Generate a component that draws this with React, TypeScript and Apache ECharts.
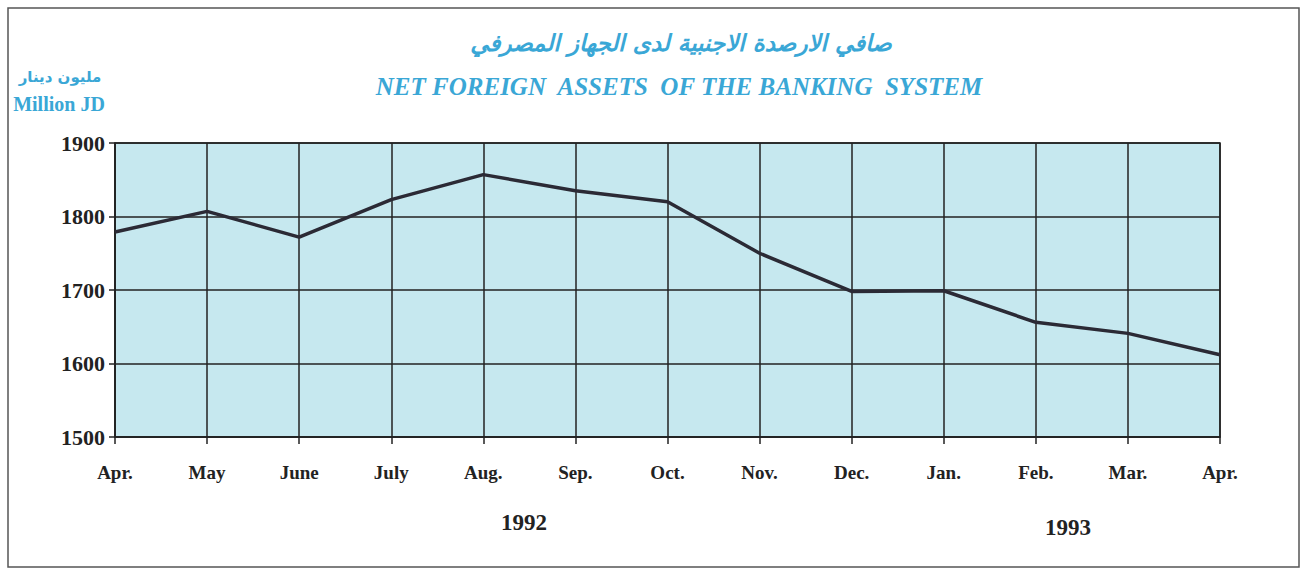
import React, { useEffect, useRef } from "react";
import * as echarts from "echarts";

const months = ["Apr.", "May", "June", "July", "Aug.", "Sep.", "Oct.", "Nov.", "Dec.", "Jan.", "Feb.", "Mar.", "Apr."];
const netForeignAssets = [1779, 1807, 1772, 1823, 1857, 1835, 1820, 1750, 1698, 1699, 1656, 1641, 1612];
const yTicks = [1500, 1600, 1700, 1800, 1900];
const titleArabic = "صافي الارصدة الاجنبية لدى الجهاز المصرفي";
const titleEnglish = "NET FOREIGN  ASSETS  OF THE BANKING  SYSTEM";
const unitArabic = "مليون دينار";
const unitEnglish = "Million JD";
const yearLabels = ["1992", "1993"];

const BLUE = "#3aa7d6";
const SERIF = "'Liberation Serif', 'DejaVu Serif', serif";

export default function App() {
  const ref = useRef<HTMLDivElement>(null);
  useEffect(() => {
    if (!ref.current) return;
    const chart = echarts.init(ref.current, null, { renderer: "svg" });
    chart.setOption({
      animation: false,
      backgroundColor: "#ffffff",
      grid: {
        left: 115,
        right: 88,
        top: 143,
        bottom: 135,
        show: true,
        backgroundColor: "#c6e8ef",
        borderColor: "#222",
        borderWidth: 1.5,
      },
      xAxis: {
        type: "category",
        data: months,
        boundaryGap: false,
        axisLine: { lineStyle: { color: "#222", width: 1.5 } },
        axisTick: { show: true, length: 7, inside: false, lineStyle: { color: "#222", width: 1.5 } },
        axisLabel: {
          margin: 26,
          color: "#222",
          fontFamily: SERIF,
          fontWeight: "bold",
          fontSize: 19,
        },
        splitLine: { show: true, lineStyle: { color: "#222", width: 1.5 } },
      },
      yAxis: {
        type: "value",
        min: yTicks[0],
        max: yTicks[yTicks.length - 1],
        interval: 100,
        axisLine: { show: true, lineStyle: { color: "#222", width: 1.5 } },
        axisTick: { show: true, length: 6, lineStyle: { color: "#222", width: 1.5 } },
        axisLabel: {
          margin: 10,
          color: "#222",
          fontFamily: SERIF,
          fontWeight: "bold",
          fontSize: 22,
          formatter: (v: number) => String(v),
        },
        splitLine: { show: true, lineStyle: { color: "#222", width: 1.5 } },
      },
      series: [
        {
          type: "line",
          data: netForeignAssets,
          symbol: "none",
          lineStyle: { color: "#2b2a35", width: 3.5 },
        },
      ],
      graphic: [
        {
          type: "rect",
          shape: { x: 8, y: 8, width: 1291, height: 559 },
          style: { fill: "none", stroke: "#555", lineWidth: 1.5 },
          silent: true,
        },
        {
          type: "text",
          x: 681,
          y: 43,
          style: {
            text: titleArabic,
            fill: BLUE,
            font: "italic bold 23px 'DejaVu Sans', 'Noto Sans', sans-serif",
            align: "center",
            verticalAlign: "middle",
          },
        },
        {
          type: "text",
          x: 679,
          y: 86,
          style: {
            text: titleEnglish,
            fill: BLUE,
            font: "italic bold 25px " + SERIF,
            align: "center",
            verticalAlign: "middle",
          },
        },
        {
          type: "text",
          x: 60,
          y: 77,
          style: {
            text: unitArabic,
            fill: BLUE,
            font: "bold 15px 'DejaVu Sans', sans-serif",
            align: "center",
            verticalAlign: "middle",
          },
        },
        {
          type: "text",
          x: 59,
          y: 104,
          style: {
            text: unitEnglish,
            fill: BLUE,
            font: "bold 20px " + SERIF,
            align: "center",
            verticalAlign: "middle",
          },
        },
        {
          type: "text",
          x: 524,
          y: 522,
          style: {
            text: yearLabels[0],
            fill: "#222",
            font: "bold 23px " + SERIF,
            align: "center",
            verticalAlign: "middle",
          },
        },
        {
          type: "text",
          x: 1068,
          y: 527,
          style: {
            text: yearLabels[1],
            fill: "#222",
            font: "bold 23px " + SERIF,
            align: "center",
            verticalAlign: "middle",
          },
        },
      ],
    });
    return () => chart.dispose();
  }, []);
  return <div ref={ref} style={{ width: 1308, height: 572, position: "absolute", left: 0, top: 0 }} />;
}
